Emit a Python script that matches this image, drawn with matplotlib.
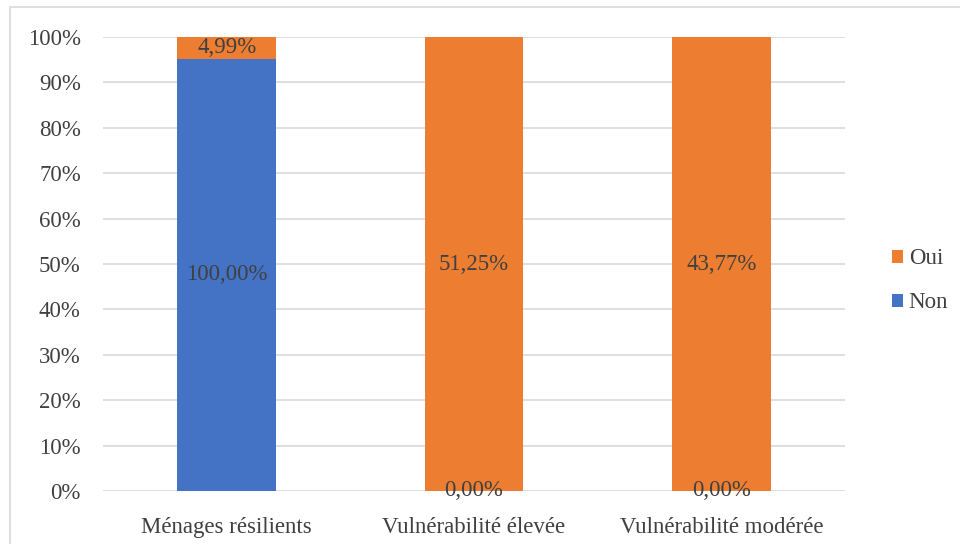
import matplotlib.pyplot as plt
from matplotlib.patches import Rectangle
from matplotlib.ticker import PercentFormatter

plt.rcParams['font.family'] = ['Liberation Serif', 'DejaVu Serif']

categories = ['Ménages résilients', 'Vulnérabilité élevée', 'Vulnérabilité modérée']
non_vals = [100.00, 0.00, 0.00]
oui_vals = [4.99, 51.25, 43.77]

# 100% stacked: each column normalised to its total
totals = [n + o for n, o in zip(non_vals, oui_vals)]
non_pct = [n / t * 100 for n, t in zip(non_vals, totals)]
oui_pct = [o / t * 100 for o, t in zip(oui_vals, totals)]

blue = '#4472C4'
orange = '#ED7D31'
txt = '#404040'
fs = 16.5

fig = plt.figure(figsize=(9.6, 5.44), dpi=100)
fig.patches.append(Rectangle((10 / 960, -0.05), 1.0, 1 - 7 / 544 + 0.05,
                             transform=fig.transFigure, fill=False,
                             edgecolor='#d9d9d9', linewidth=1.2))
ax = fig.add_axes([103 / 960, 1 - 491 / 544, 742 / 960, 454 / 544])

x = range(len(categories))
b_non = ax.bar(x, non_pct, width=0.4, color=blue, label='Non', zorder=3)
b_oui = ax.bar(x, oui_pct, width=0.4, bottom=non_pct, color=orange, label='Oui', zorder=3)

def fmt(v):
    return f'{v:.2f}%'.replace('.', ',')

for i in x:
    ax.text(i, non_pct[i] / 2, fmt(non_vals[i]), ha='center', va='center',
            fontsize=fs, color=txt, zorder=4)
    ax.text(i, non_pct[i] + oui_pct[i] / 2, fmt(oui_vals[i]), ha='center', va='center',
            fontsize=fs, color=txt, zorder=4)

ax.set_xlim(-0.5, 2.5)
ax.set_ylim(0, 100)
ax.set_yticks(range(0, 101, 10))
ax.yaxis.set_major_formatter(PercentFormatter(decimals=0))
ax.set_xticks(list(x))
ax.set_xticklabels(categories)
ax.tick_params(axis='both', length=0, labelsize=fs, labelcolor=txt)
ax.tick_params(axis='y', pad=16)
ax.tick_params(axis='x', pad=19)
ax.grid(axis='y', color='#d9d9d9', linewidth=1.2, zorder=0)
for s in ax.spines.values():
    s.set_visible(False)

handles = [b_oui, b_non]
ax.legend(handles, ['Oui', 'Non'], loc='center left', bbox_to_anchor=(1.035, 0.463),
          frameon=False, fontsize=fs, labelcolor=txt, handlelength=0.5,
          handleheight=0.5, handletextpad=0.25, labelspacing=1.0)

fig.savefig('out.png', dpi=100)
